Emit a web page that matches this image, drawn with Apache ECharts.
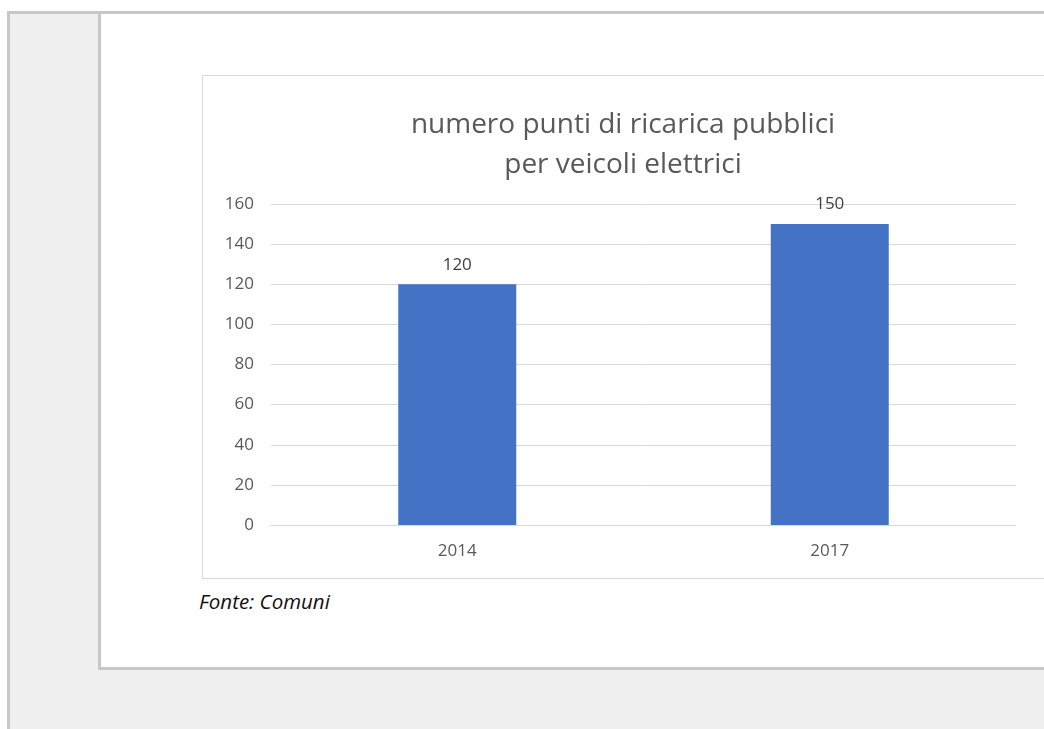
<!DOCTYPE html>
<html>
<head>
<meta charset="utf-8">
<script src="https://cdn.jsdelivr.net/npm/echarts@6/dist/echarts.min.js"></script>
<style>
    body{margin:0;width:1044px;height:729px;background:#fff;position:relative;overflow:hidden;font-family:"Open Sans",sans-serif;}
    .frame{position:absolute;left:7px;top:11px;width:1100px;height:730px;border-left:3px solid #c8c8c8;border-top:3px solid #c8c8c8;background:#f0f0f0;}
    .panel{position:absolute;left:98px;top:14px;width:1000px;height:653px;border-left:3px solid #c8c8c8;border-bottom:3px solid #c8c8c8;background:#fff;}
    #main{position:absolute;left:202px;top:75px;width:850px;height:502px;border:1px solid #d9d9d9;background:#fff;}
    .fonte{position:absolute;left:199px;top:587px;font-size:20.5px;font-style:italic;color:#111;}
</style>
</head>
<body>
<div class="frame"></div>
<div class="panel"></div>
<div id="main"></div>
<div class="fonte">Fonte: Comuni</div>
<script>
var titleText = 'numero punti di ricarica pubblici\nper veicoli elettrici';
var years = ['2014', '2017'];
var puntiRicarica = [120, 150];

var myChart = echarts.init(document.getElementById('main'));
var opt = {
    animation: false,
    title: {
        text: titleText,
        left: 415,
        top: 24,
        textAlign: 'center',
        textStyle: {fontFamily: 'Open Sans', fontSize: 28, fontWeight: 'normal', color: '#595959', lineHeight: 40}
    },
    grid: {left: 68, right: 37, top: 128, bottom: 53},
    xAxis: {
        type: 'category',
        data: years,
        axisLine: {lineStyle: {color: '#d9d9d9'}},
        axisTick: {show: false},
        axisLabel: {color: '#595959', fontSize: 17, fontFamily: 'Open Sans', margin: 18}
    },
    yAxis: {
        type: 'value',
        min: 0,
        max: 160,
        interval: 20,
        axisLabel: {color: '#595959', fontSize: 17, fontFamily: 'Open Sans', margin: 17},
        splitLine: {lineStyle: {color: '#d9d9d9'}}
    },
    series: [{
        type: 'bar',
        data: puntiRicarica,
        barWidth: 118,
        itemStyle: {color: '#4472c4'},
        label: {show: true, position: 'top', distance: 11, color: '#404040', fontSize: 17, fontFamily: 'Open Sans'}
    }]
};
myChart.setOption(opt);
</script>
</body>
</html>
